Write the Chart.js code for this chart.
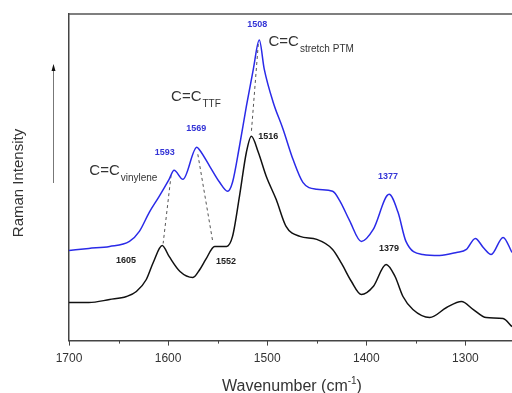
<!DOCTYPE html>
<html>
<head>
<meta charset="utf-8">
<script src="https://cdn.jsdelivr.net/npm/chart.js@4"></script>
<style>
  html, body { margin: 0; padding: 0; background: #fff; }
  #wrap { width: 512px; height: 393px; }
</style>
</head>
<body>
<div id="wrap"><canvas id="ramanChart" width="512" height="393"></canvas></div>
<script>
// Spectrum (wavenumber in cm-1, intensity in arbitrary units)
var blueWn  = [1700, 1680, 1659, 1639, 1629, 1619, 1609, 1599, 1594, 1585, 1571, 1568, 1558, 1548, 1540, 1535, 1528, 1521, 1514, 1508, 1503, 1494, 1484, 1474, 1464, 1450, 1434, 1427, 1417, 1405, 1393, 1377, 1368, 1360, 1343, 1326, 1309, 1299, 1290, 1282, 1274, 1262, 1253];
var blueVal = [90, 92, 94, 99, 109, 128, 144, 161, 170, 161, 193, 190, 174, 158, 149, 158, 194, 234, 271, 300, 271, 238, 211, 181, 158, 151, 149, 140, 120, 99, 111, 146, 128, 99, 86, 85, 88, 91, 102, 93, 86, 103, 88];

var blackWn  = [1700, 1680, 1659, 1642, 1632, 1622, 1615, 1606, 1599, 1588, 1575, 1568, 1562, 1553, 1541, 1535, 1528, 1521, 1516, 1509, 1501, 1491, 1481, 1467, 1450, 1434, 1425, 1415, 1405, 1393, 1380, 1371, 1363, 1353, 1336, 1319, 1304, 1292, 1279, 1262, 1253];
var blackVal = [38, 38, 41, 44, 49, 61, 78, 95, 84, 69, 63, 71, 81, 94, 94, 104, 144, 188, 204, 188, 164, 141, 114, 104, 101, 91, 77, 59, 46, 54, 76, 64, 44, 31, 23, 33, 39, 31, 23, 22, 14];

// dashed guides between matching peaks: [wn, value] pairs
var guideVinylene = [[1597, 165], [1605, 97]];
var guideTTF      = [[1570, 186], [1555, 99]];
var guideStretch  = [[1509, 296], [1516, 208]];

// peak numbers
var peakText  = ['1593', '1569', '1508', '1377', '1605', '1552', '1516', '1379'];
var peakWn    = [1603.5, 1571.5, 1510, 1378, 1642.5, 1541.5, 1499, 1377];
var peakVal   = [188, 212, 316, 164, 80, 79, 204, 92];
var peakBlue  = [true, true, true, true, false, false, false, false];

// band assignments: main text + subscript
var bandMain = ['C=C', 'C=C', 'C=C'];
var bandSub  = ['vinylene', 'TTF', 'stretch PTM'];
var bandWn   = [1679.5, 1597, 1498.7];
var bandVal  = [169, 243, 298];

var xTicks = [1700, 1650, 1600, 1550, 1500, 1450, 1400, 1350, 1300];

var BLUE = '#2a2ae8';
var BLUE_TXT = '#3434d6';

function toPoints(xs, ys) {
    return xs.map(function (x, i) { return { x: x, y: ys[i] }; });
}
function guidePoints(g) {
    return g.map(function (p) { return { x: p[0], y: p[1] }; });
}

var decorPlugin = {
    id: 'decor',
    afterDraw: function (chart) {
        var c = chart.ctx;
        var xs = chart.scales.x, ys = chart.scales.y;
        var area = chart.chartArea;
        c.save();

        // top frame line
        c.strokeStyle = '#555';
        c.lineWidth = 1.5;
        c.beginPath();
        c.moveTo(area.left, area.top);
        c.lineTo(chart.width, area.top);
        c.stroke();

        // outward ticks on the x axis
        c.lineWidth = 1;
        c.strokeStyle = '#444';
        xTicks.forEach(function (v) {
            var px = Math.round(xs.getPixelForValue(v)) + 0.5;
            var len = (v % 100 === 0) ? 5 : 3;
            c.beginPath();
            c.moveTo(px, area.bottom);
            c.lineTo(px, area.bottom + len);
            c.stroke();
        });

        // peak numbers
        c.font = 'bold 9px "Liberation Sans", Arial, sans-serif';
        c.textAlign = 'center';
        c.textBaseline = 'middle';
        peakText.forEach(function (t, i) {
            c.fillStyle = peakBlue[i] ? BLUE_TXT : '#222';
            c.fillText(t, xs.getPixelForValue(peakWn[i]), ys.getPixelForValue(peakVal[i]));
        });

        // band assignments
        c.textAlign = 'left';
        c.fillStyle = '#333';
        bandMain.forEach(function (t, i) {
            var px = xs.getPixelForValue(bandWn[i]);
            var py = ys.getPixelForValue(bandVal[i]);
            c.font = '15px "Liberation Sans", Arial, sans-serif';
            c.fillText(t, px, py);
            var w = c.measureText(t).width;
            c.font = '10px "Liberation Sans", Arial, sans-serif';
            c.fillText(bandSub[i], px + w + 1, py + 7);
        });

        // y axis title and arrow
        c.save();
        c.translate(19, 183);
        c.rotate(-Math.PI / 2);
        c.textAlign = 'center';
        c.font = '15px "Liberation Sans", Arial, sans-serif';
        c.fillStyle = '#333';
        c.fillText('Raman Intensity', 0, 0);
        c.restore();

        c.strokeStyle = '#777';
        c.lineWidth = 1;
        c.beginPath();
        c.moveTo(53.5, 183);
        c.lineTo(53.5, 70);
        c.stroke();
        c.fillStyle = '#111';
        c.beginPath();
        c.moveTo(53.5, 64);
        c.lineTo(51.5, 71);
        c.lineTo(55.5, 71);
        c.closePath();
        c.fill();

        // x axis title
        c.fillStyle = '#333';
        c.font = '16px "Liberation Sans", Arial, sans-serif';
        var main = 'Wavenumber (cm';
        var mw = c.measureText(main).width;
        c.font = '10px "Liberation Sans", Arial, sans-serif';
        var sw = c.measureText('-1').width;
        c.font = '16px "Liberation Sans", Arial, sans-serif';
        var cw = c.measureText(')').width;
        var startX = 292 - (mw + sw + cw) / 2;
        c.textAlign = 'left';
        c.fillText(main, startX, 387);
        c.font = '10px "Liberation Sans", Arial, sans-serif';
        c.fillText('-1', startX + mw, 381);
        c.font = '16px "Liberation Sans", Arial, sans-serif';
        c.fillText(')', startX + mw + sw, 387);

        c.restore();
    }
};

var ctx = document.getElementById('ramanChart').getContext('2d');

var ramanChart = new Chart(ctx, {
    type: 'line',
    data: {
        datasets: [{
            label: 'blue',
            data: toPoints(blueWn, blueVal),
            borderColor: BLUE,
            borderWidth: 1.5,
            pointRadius: 0,
            cubicInterpolationMode: 'monotone',
            fill: false
        }, {
            label: 'black',
            data: toPoints(blackWn, blackVal),
            borderColor: '#111',
            borderWidth: 1.5,
            pointRadius: 0,
            cubicInterpolationMode: 'monotone',
            fill: false
        }, {
            data: guidePoints(guideVinylene),
            borderColor: '#555', borderWidth: 1, borderDash: [3, 3], pointRadius: 0
        }, {
            data: guidePoints(guideTTF),
            borderColor: '#555', borderWidth: 1, borderDash: [3, 3], pointRadius: 0
        }, {
            data: guidePoints(guideStretch),
            borderColor: '#555', borderWidth: 1, borderDash: [3, 3], pointRadius: 0
        }]
    },
    options: {
        responsive: false,
        animation: false,
        events: [],
        layout: { padding: { left: 69, right: 0, top: 14, bottom: 16 } },
        plugins: {
            legend: { display: false },
            tooltip: { enabled: false }
        },
        scales: {
            x: {
                type: 'linear',
                reverse: true,
                min: 1253,
                max: 1700,
                afterBuildTicks: function (axis) {
                    axis.ticks = xTicks.map(function (v) { return { value: v }; });
                },
                ticks: {
                    autoSkip: false,
                    maxRotation: 0,
                    padding: 11,
                    color: '#333',
                    font: { size: 12, family: '"Liberation Sans", Arial, sans-serif' },
                    callback: function (v) { return v % 100 === 0 ? String(v) : ''; }
                },
                grid: { display: false, drawTicks: false },
                border: { display: true, color: '#444', width: 1.5 }
            },
            y: {
                min: 0,
                max: 326,
                ticks: { display: false },
                grid: { display: false, drawTicks: false },
                border: { display: true, color: '#444', width: 1.5 }
            }
        }
    },
    plugins: [decorPlugin]
});
</script>
</body>
</html>
